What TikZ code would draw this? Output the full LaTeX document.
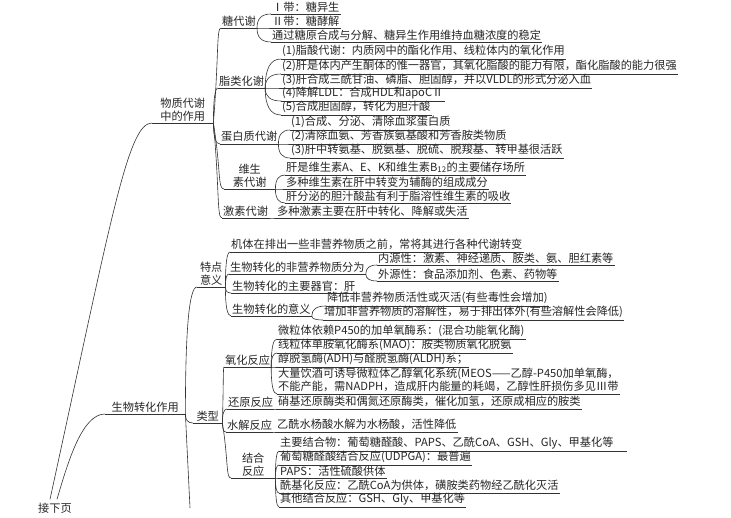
\documentclass[tikz,border=0pt]{standalone}
\usepackage{fontspec}
\setmainfont{Noto Sans CJK SC}
\usetikzlibrary{calc}
\begin{document}
\begin{tikzpicture}[x=1pt,y=-1pt,
  every node/.style={font=\fontsize{11.2}{13}\selectfont, text=black!85},
  t/.style={anchor=south west, inner xsep=1pt, inner ysep=1.8pt},
  ln/.style={line width=0.6pt, draw=black!80},
  br/.style={to path={.. controls ($(\tikztostart)!0.67!(\tikztostart|-\tikztotarget)$) and ($(\tikztotarget)!0.67!(\tikztostart|-\tikztotarget)$) .. (\tikztotarget)}},
  trunk/.style={to path={.. controls ($(\tikztostart)!0.72!(\tikztotarget)$) and ($(\tikztotarget)!0.6!(\tikztostart|-\tikztotarget)$) .. (\tikztotarget)}}
]
\useasboundingbox[fill=white] (0,0) rectangle (731,518);

% root
\node (jx) at (55,508) {接下页};
\node[t, text width=59, align=center] (wz) at (152,123) {物质代谢\\中的作用};
\node[t, text width=78, align=center] (sw) at (105,414) {生物转化作用};
\coordinate (j1) at ($(jx.north)+(-5,0)$);
\coordinate (j2) at ($(jx.north)+(2,0)$);
\coordinate (cont) at (190,508);

% 物质代谢
\node[t] (t1) at (221,28) {糖代谢};
\node[t] (t1a) at (271,14) {Ⅰ带：糖异生};
\node[t] (t1b) at (271,28) {Ⅱ带：糖酵解};
\node[t] (t1c) at (271,42) {通过糖原合成与分解、糖异生作用维持血糖浓度的稳定};

\node[t] (t2) at (218,88) {脂类化谢};
\node[t] (t2a) at (281,59) {(1)脂酸代谢：内质网中的酯化作用、线粒体内的氧化作用};
\node[t] (t2b) at (281,74) {(2)肝是体内产生酮体的惟一器官，其氧化脂酸的能力有限，酯化脂酸的能力很强};
\node[t] (t2c) at (281,88) {(3)肝合成三酰甘油、磷脂、胆固醇，并以VLDL的形式分泌入血};
\node[t] (t2d) at (281,101) {(4)降解LDL：合成HDL和apoCⅡ};
\node[t] (t2e) at (281,115) {(5)合成胆固醇，转化为胆汁酸};

\node[t] (t3) at (220,144) {蛋白质代谢};
\node[t] (t3a) at (290,130) {(1)合成、分泌、清除血浆蛋白质};
\node[t] (t3b) at (290,144) {(2)清除血氨、芳香族氨基酸和芳香胺类物质};
\node[t] (t3c) at (290,158) {(3)肝中转氨基、脱氨基、脱硫、脱羧基、转甲基很活跃};

\node[t, text width=49, align=center] (t4) at (224,189) {维生\\素代谢};
\node[t] (t4a) at (285,175) {肝是维生素A、E、K和维生素B\textsubscript{12}的主要储存场所};
\node[t] (t4b) at (285,189) {多种维生素在肝中转变为辅酶的组成成分};
\node[t] (t4c) at (285,203) {肝分泌的胆汁酸盐有利于脂溶性维生素的吸收};

\node[t] (t5) at (222,218) {激素代谢};
\node[t] (t5a) at (276,218) {多种激素主要在肝中转化、降解或失活};

% 生物转化作用
\node[t, text width=26, align=center] (u1) at (197,287) {特点\\意义};
\node[t] (u1a) at (230,252) {机体在排出一些非营养物质之前，常将其进行各种代谢转变};
\node[t] (u1b) at (229,274) {生物转化的非营养物质分为};
\node[t] (u1b1) at (377,265) {内源性：激素、神经递质、胺类、氨、胆红素等};
\node[t] (u1b2) at (377,281) {外源性：食品添加剂、色素、药物等};
\node[t] (u1c) at (231,293) {生物转化的主要器官：肝};
\node[t] (u1d) at (231,316) {生物转化的意义};
\node[t] (u1d1) at (326,306) {降低非营养物质活性或灭活(有些毒性会增加)};
\node[t] (u1d2) at (323,320) {增加非营养物质的溶解性，易于排出体外(有些溶解性会降低)};

\node[t, text width=27, align=center] (u2) at (193,423) {类型};
\node[t] (u2a) at (224,367) {氧化反应};
\node[t] (u2a1) at (277,339) {微粒体依赖P450的加单氧酶系：(混合功能氧化酶)};
\node[t] (u2a2) at (277,353) {线粒体单胺氧化酶系(MAO)：胺类物质氧化脱氨};
\node[t] (u2a3) at (277,367) {醇脱氢酶(ADH)与醛脱氢酶(ALDH)系；};
\node[t, align=left] (u2a4) at (277,394) {大量饮酒可诱导微粒体乙醇氧化系统(MEOS——乙醇-P450加单氧酶，\\不能产能，需NADPH，造成肝内能量的耗竭，乙醇性肝损伤多见Ⅲ带};
\node[t] (u2b) at (227,409) {还原反应};
\node[t] (u2b1) at (277,409) {硝基还原酶类和偶氮还原酶类，催化加氢，还原成相应的胺类};
\node[t] (u2c) at (226,432) {水解反应};
\node[t] (u2c1) at (276,432) {乙酰水杨酸水解为水杨酸，活性降低};
\node[t, text width=42, align=center] (u2d) at (231,478) {结合\\反应};
\node[t, text width=346, align=left] (u2d1) at (279,451) {主要结合物：葡萄糖醛酸、PAPS、乙酰CoA、GSH、Gly、甲基化等};
\node[t] (u2d2) at (279,465) {葡萄糖醛酸结合反应(UDPGA)：最普遍};
\node[t] (u2d3) at (279,478) {PAPS：活性硫酸供体};
\node[t] (u2d4) at (279,493) {酰基化反应：乙酰CoA为供体，磺胺类药物经乙酰化灭活};
\node[t] (u2d5) at (279,507) {其他结合反应：GSH、Gly、甲基化等};

% underlines
\foreach \n in {wz,sw,t1,t1a,t1b,t1c,t2,t2a,t2b,t2c,t2d,t2e,t3,t3a,t3b,t3c,t4,t4a,t4b,t4c,t5,t5a,
  u1,u1a,u1b,u1b1,u1b2,u1c,u1d,u1d1,u1d2,u2,u2a,u2a1,u2a2,u2a3,u2a4,u2b,u2b1,u2c,u2c1,u2d,u2d1,u2d2,u2d3,u2d4,u2d5}
  \draw[ln] (\n.south west) -- (\n.south east);

% root connectors
\draw[ln] (j1) .. controls (112,215) and (128,123) .. (wz.south west);
\draw[ln] (j2) .. controls (68,462) and (82,414) .. (sw.south west);

% brackets
\foreach \c in {t1,t4,t5} \draw[ln] (wz.south east) to[trunk] (\c.south west);
\foreach \c in {t2,t3} \draw[ln] (wz.south east) to[br] (\c.south west);
\foreach \c in {t1a,t1b,t1c} \draw[ln] (t1.south east) to[br] (\c.south west);
\foreach \c in {t2a,t2b,t2c,t2d,t2e} \draw[ln] (t2.south east) to[br] (\c.south west);
\foreach \c in {t3a,t3b,t3c} \draw[ln] (t3.south east) to[br] (\c.south west);
\foreach \c in {t4a,t4b,t4c} \draw[ln] (t4.south east) to[br] (\c.south west);
\draw[ln] (t5.south east) to[br] (t5a.south west);

\foreach \c in {u1,u2} \draw[ln] (sw.south east) to[br] (\c.south west);
\draw[ln] (sw.south east) -- (cont);
\foreach \c in {u1a,u1b,u1c,u1d} \draw[ln] (u1.south east) to[br] (\c.south west);
\foreach \c in {u1b1,u1b2} \draw[ln] (u1b.south east) to[br] (\c.south west);
\foreach \c in {u1d1,u1d2} \draw[ln] (u1d.south east) to[br] (\c.south west);
\foreach \c in {u2a,u2d} \draw[ln] (u2.south east) to[trunk] (\c.south west);
\foreach \c in {u2b,u2c} \draw[ln] (u2.south east) to[br] (\c.south west);
\foreach \c in {u2a1,u2a2,u2a3,u2a4} \draw[ln] (u2a.south east) to[br] (\c.south west);
\draw[ln] (u2b.south east) to[br] (u2b1.south west);
\draw[ln] (u2c.south east) to[br] (u2c1.south west);
\foreach \c in {u2d1,u2d2,u2d3,u2d4,u2d5} \draw[ln] (u2d.south east) to[br] (\c.south west);
\end{tikzpicture}
\end{document}
